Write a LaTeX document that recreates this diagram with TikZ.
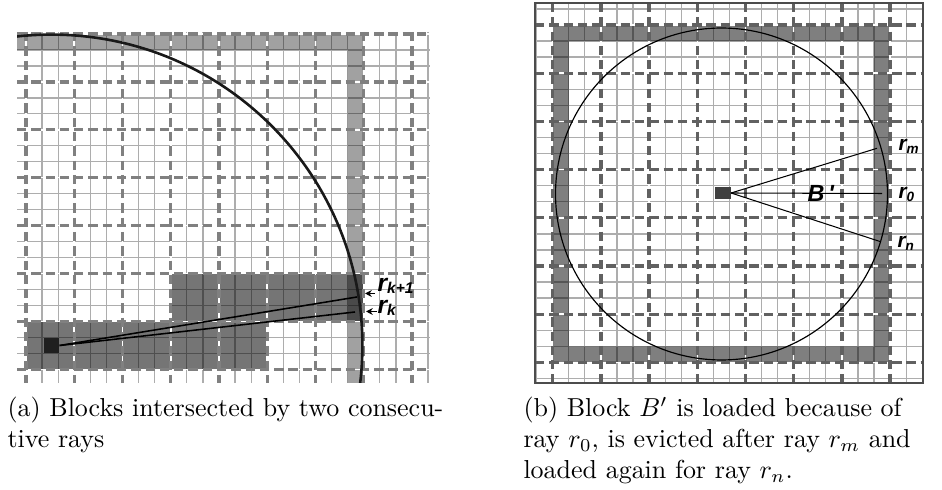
\documentclass[tikz,border=0pt]{standalone}
\usepackage{fontspec}
\newfontfamily\labfont{Liberation Sans}
\usetikzlibrary{arrows.meta}
\newcommand\lsubA[1]{\raisebox{-0.5pt}{\fontsize{6}{6}\selectfont #1}}
\newcommand\lsubB[1]{\raisebox{-1.1pt}{\fontsize{5.2}{5.2}\selectfont #1}}
\begin{document}
\begin{tikzpicture}[x=0.385pt,y=-0.385pt,
  fine/.style={black, opacity=0.32, line width=0.5pt},
  dashwhite/.style={white, line width=0.6pt},
  dashA/.style={black!50, line width=1.27pt, dash pattern=on 3.6pt off 1.9pt},
  dashB/.style={black!62, line width=1.27pt, dash pattern=on 3.6pt off 1.9pt},
  labA/.style={font=\labfont\bfseries\itshape\fontsize{9.5}{9.5}\selectfont, inner sep=0pt, anchor=base west},
  labB/.style={font=\labfont\bfseries\itshape\fontsize{8}{8}\selectfont, inner sep=0pt, anchor=base west},
  ray/.style={black, line width=0.6pt},
  rayB/.style={black, line width=0.4pt},
  captext/.style={anchor=north west, inner sep=0pt, align=left, font=\fontsize{10}{12}\selectfont}
]
\useasboundingbox (0,0) rectangle (942,490);

% ---------- panel (a) ----------
\begin{scope}
  \clip (17,32) rectangle (430,383);
  \fill[black, opacity=0.37] (17,34) rectangle (363.75,50) (347.67,34) rectangle (363.75,383);
  \fill[black, opacity=0.54] (26,321.4) rectangle (267.25,369.3) (170.75,273.5) rectangle (363.75,321.4);
  \draw[fine] \foreach \k in {0,...,25} {({26+16.083*\k},32) -- ({26+16.083*\k},383)}
              \foreach \k in {0,...,22} {(17,{34+15.967*\k}) -- (430,{34+15.967*\k})};
  \draw[dashwhite] \foreach \k in {0,...,8} {({26+48.25*\k},32) -- ({26+48.25*\k},383)}
                   \foreach \k in {0,...,7} {(17,{34+47.9*\k}) -- (430,{34+47.9*\k})};
  \draw[dashA] \foreach \k in {0,...,8} {({26+48.25*\k},32) -- ({26+48.25*\k},383)}
               \foreach \k in {0,...,7} {(17,{34+47.9*\k}) -- (430,{34+47.9*\k})};
  \draw[black!90, line width=1pt] (51.5,345.5) circle[radius=119.7pt];
\end{scope}
\node[fill=black!88, minimum size=5.8pt, inner sep=0pt] (srcA) at (51.5,345.5) {};
\coordinate (endK1) at (357,297);
\coordinate (endK) at (355,312);
\draw[ray] (srcA.east) -- (endK1);
\draw[ray] (srcA.east) -- (endK);
\node[labA] (labK1) at (377,292) {r\lsubA{k+1}};
\node[labA] (labK) at (377,314) {r\lsubA{k}};
\coordinate (aK1s) at (375,293.5);
\coordinate (aK1e) at (365,293.5);
\coordinate (aKs) at (377,311.5);
\coordinate (aKe) at (366,311.5);
\draw[line width=0.5pt, -{Stealth[length=2.6pt,width=2.6pt]}] (aK1s) -- (aK1e);
\draw[line width=0.5pt, -{Stealth[length=2.6pt,width=2.6pt]}] (aKs) -- (aKe);

% ---------- panel (b) ----------
\begin{scope}
  \clip (535,3) rectangle (923,383);
  \fill[black, opacity=0.5, even odd rule] (552.7,25) rectangle (890.1,362.4) (568.77,41.07) rectangle (874.03,346.33);
  \draw[fine] \foreach \k in {-1,...,23} {({552.7+16.067*\k},3) -- ({552.7+16.067*\k},383)}
              \foreach \k in {-1,...,22} {(535,{25+16.067*\k}) -- (923,{25+16.067*\k})};
  \draw[dashwhite] \foreach \k in {0,...,7} {({552.7+48.2*\k},3) -- ({552.7+48.2*\k},383)}
                   \foreach \k in {0,...,7} {(535,{25+48.2*\k}) -- (923,{25+48.2*\k})};
  \draw[dashB] \foreach \k in {0,...,7} {({552.7+48.2*\k},3) -- ({552.7+48.2*\k},383)}
               \foreach \k in {0,...,7} {(535,{25+48.2*\k}) -- (923,{25+48.2*\k})};
\end{scope}
\draw[black!70, line width=0.75pt] (535,3) rectangle (923,383);
\draw[black, line width=0.45pt] (721.5,194) circle[radius=63.9pt];
\node[fill=black!75, minimum width=5.8pt, minimum height=4.8pt, inner sep=0pt] (srcB) at (723,193) {};
\coordinate (endM) at (877,148.3);
\coordinate (end0) at (882,193.5);
\coordinate (endN) at (880,241.5);
\draw[rayB] (srcB.east) -- (endM);
\draw[rayB] (srcB.east) -- (end0);
\draw[rayB] (srcB.east) -- (endN);
\node[labB] (labM) at (898,150.7) {r\lsubB{m}};
\node[labB] (lab0) at (898,199) {r\lsubB{0}};
\node[labB] (labN) at (897,247.7) {r\lsubB{n}};
\node[font=\labfont\bfseries\itshape\fontsize{9}{9}\selectfont, inner sep=0pt, anchor=base west] (labB) at (807,201.7) {B\,\textquotesingle};

% ---------- captions ----------
\node[captext, text width=170.9pt] (capA) at (7,396.5)
  {\makebox[170.9pt][s]{(a) Blocks intersected by two consecu-}\\tive rays};
\node[captext, text width=157.9pt] (capB) at (523,396.5)
  {\makebox[157.9pt][s]{(b) Block $B'$ is loaded because of}\\
   \makebox[157.9pt][s]{ray $r_0$, is evicted after ray $r_m$ and}\\
   loaded again for ray $r_n$.};
\end{tikzpicture}
\end{document}
